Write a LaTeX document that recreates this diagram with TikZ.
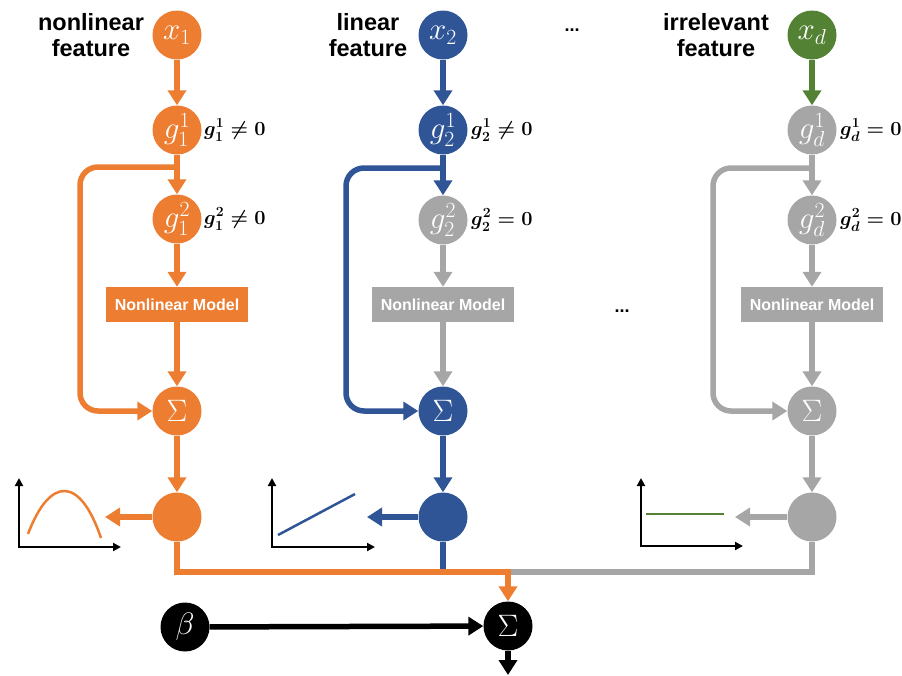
\RequirePackage{fix-cm}
\documentclass[tikz,border=0pt]{standalone}
\usepackage{fontspec}
\setmainfont{Liberation Sans}
\usetikzlibrary{arrows.meta}
\definecolor{cor}{HTML}{ED7D31}
\definecolor{cbl}{HTML}{2F5597}
\definecolor{cgn}{HTML}{548235}
\definecolor{cgr}{HTML}{A6A6A6}
\tikzset{
  circ/.style={circle, minimum size=49pt, inner sep=0pt, text=white, font=\fontsize{31}{31}\selectfont},
  conn/.style={line width=5.5pt, -{Triangle[length=15pt,width=18pt]}},
  plain/.style={line width=5.5pt},
  nmbox/.style={minimum width=142pt, minimum height=35pt, inner sep=0pt, text=white, font=\fontsize{16}{16}\selectfont\bfseries},
  flabel/.style={font=\fontsize{23.5}{26}\selectfont\bfseries, align=center, inner sep=0pt},
  glabel/.style={anchor=west, inner sep=0pt, font=\fontsize{20}{20}\selectfont\boldmath},
  axes/.style={line width=2pt, {Triangle[length=8pt,width=8pt]}-{Triangle[length=8pt,width=8pt]}},
  curve/.style={line width=2.5pt},
  dots/.style={font=\fontsize{18}{18}\selectfont\bfseries}
}
\begin{document}
\begin{tikzpicture}[x=1pt,y=-1pt]
\useasboundingbox (0,0) rectangle (902,675);
% ---------- column 1 (orange) ----------
\node[circ, fill=cor] (x1) at (177,35) {$x_1$};
\node[circ, fill=cor] (g11) at (177,130) {$g_1^1$};
\node[circ, fill=cor] (g12) at (177,219) {$g_1^2$};
\node[nmbox, fill=cor] (nm1) at (177,304.5) {Nonlinear Model};
\node[circ, fill=cor] (s1) at (177,411) {$\Sigma$};
\node[circ, fill=cor] (o1) at (177,517) {};
\node[flabel] (l1) at (91,35) {nonlinear\\feature};
\node[glabel] (t11) at (204,130) {$g_1^1\neq 0$};
\node[glabel] (t12) at (204,219) {$g_1^2\neq 0$};
\coordinate (b1) at (177,167);
\coordinate (c1) at (80,411);
\coordinate (a1) at (105,517);
% ---------- column 2 (blue) ----------
\node[circ, fill=cbl] (x2) at (443,35) {$x_2$};
\node[circ, fill=cbl] (g21) at (443,130) {$g_2^1$};
\node[circ, fill=cgr] (g22) at (443,220) {$g_2^2$};
\node[nmbox, fill=cgr] (nm2) at (443,304.5) {Nonlinear Model};
\node[circ, fill=cbl] (s2) at (443,411) {$\Sigma$};
\node[circ, fill=cbl] (o2) at (443,517) {};
\node[flabel] (l2) at (368,35) {linear\\feature};
\node[glabel] (t21) at (471,130) {$g_2^1\neq 0$};
\node[glabel] (t22) at (471,220) {$g_2^2=0$};
\coordinate (b2) at (443,168);
\coordinate (c2) at (346,411);
\coordinate (a2) at (367,517);
% ---------- column 3 (gray) ----------
\node[circ, fill=cgn] (xd) at (812,35) {$x_d$};
\node[circ, fill=cgr] (gd1) at (812,130) {$g_d^1$};
\node[circ, fill=cgr] (gd2) at (812,220) {$g_d^2$};
\node[nmbox, fill=cgr] (nm3) at (812,304.5) {Nonlinear Model};
\node[circ, fill=cgr] (s3) at (812,411) {$\Sigma$};
\node[circ, fill=cgr] (o3) at (812,517) {};
\node[flabel] (l3) at (716,35) {irrelevant\\feature};
\node[glabel] (td1) at (840,130) {$g_d^1=0$};
\node[glabel] (td2) at (840,220) {$g_d^2=0$};
\coordinate (b3) at (812,168);
\coordinate (c3) at (713,411);
\coordinate (a3) at (735,517);
% ---------- dots ----------
\node[dots] (d1) at (572,30) {...};
\node[dots] (d2) at (622,311) {...};
% ---------- bottom ----------
\node[circ, fill=black] (beta) at (185,627) {$\beta$};
\node[circ, fill=black] (fs) at (508,626) {$\Sigma$};
\coordinate (j) at (508,572);
\coordinate (out) at (508,675);
% ---------- connectors col 1 ----------
\draw[conn, cor] (x1) -- (g11);
\draw[conn, cor] (g11) -- (g12);
\draw[conn, cor] (g12) -- (nm1);
\draw[conn, cor] (nm1) -- (s1);
\draw[conn, cor, rounded corners=18pt] (b1) -| (c1) -- (s1);
\draw[conn, cor] (s1) -- (o1);
\draw[conn, cor] (o1) -- (a1);
% ---------- connectors col 2 ----------
\draw[conn, cbl] (x2) -- (g21);
\draw[conn, cbl] (g21) -- (g22);
\draw[conn, cgr] (g22) -- (nm2);
\draw[conn, cgr] (nm2) -- (s2);
\draw[conn, cbl, rounded corners=18pt] (b2) -| (c2) -- (s2);
\draw[conn, cbl] (s2) -- (o2);
\draw[conn, cbl] (o2) -- (a2);
% ---------- connectors col 3 ----------
\draw[conn, cgn] (xd) -- (gd1);
\draw[conn, cgr] (gd1) -- (gd2);
\draw[conn, cgr] (gd2) -- (nm3);
\draw[conn, cgr] (nm3) -- (s3);
\draw[conn, cgr, rounded corners=18pt] (b3) -| (c3) -- (s3);
\draw[conn, cgr] (s3) -- (o3);
\draw[conn, cgr] (o3) -- (a3);
% ---------- bus ----------
\draw[plain, cgr] (o3) |- (j);
\draw[plain, cbl] (o2) -- (o2 |- j);
\draw[conn, cor] (o1) |- (j) -- (fs);
\draw[conn, black] (beta) -- (fs);
\draw[conn, black] (fs) -- (out);
% ---------- small plots ----------
\draw[axes] (19,478) -- (19,547) -- (121,547);
\draw[curve, cor] (28,534) .. controls (50,476) and (80,476) .. (101,538);
\draw[axes] (272,478) -- (272,547) -- (375,547);
\draw[curve, cbl] (278,535) -- (355,494);
\draw[axes] (641,478) -- (641,546) -- (743,546);
\draw[curve, cgn] (646,514) -- (724,514);
\end{tikzpicture}
\end{document}
